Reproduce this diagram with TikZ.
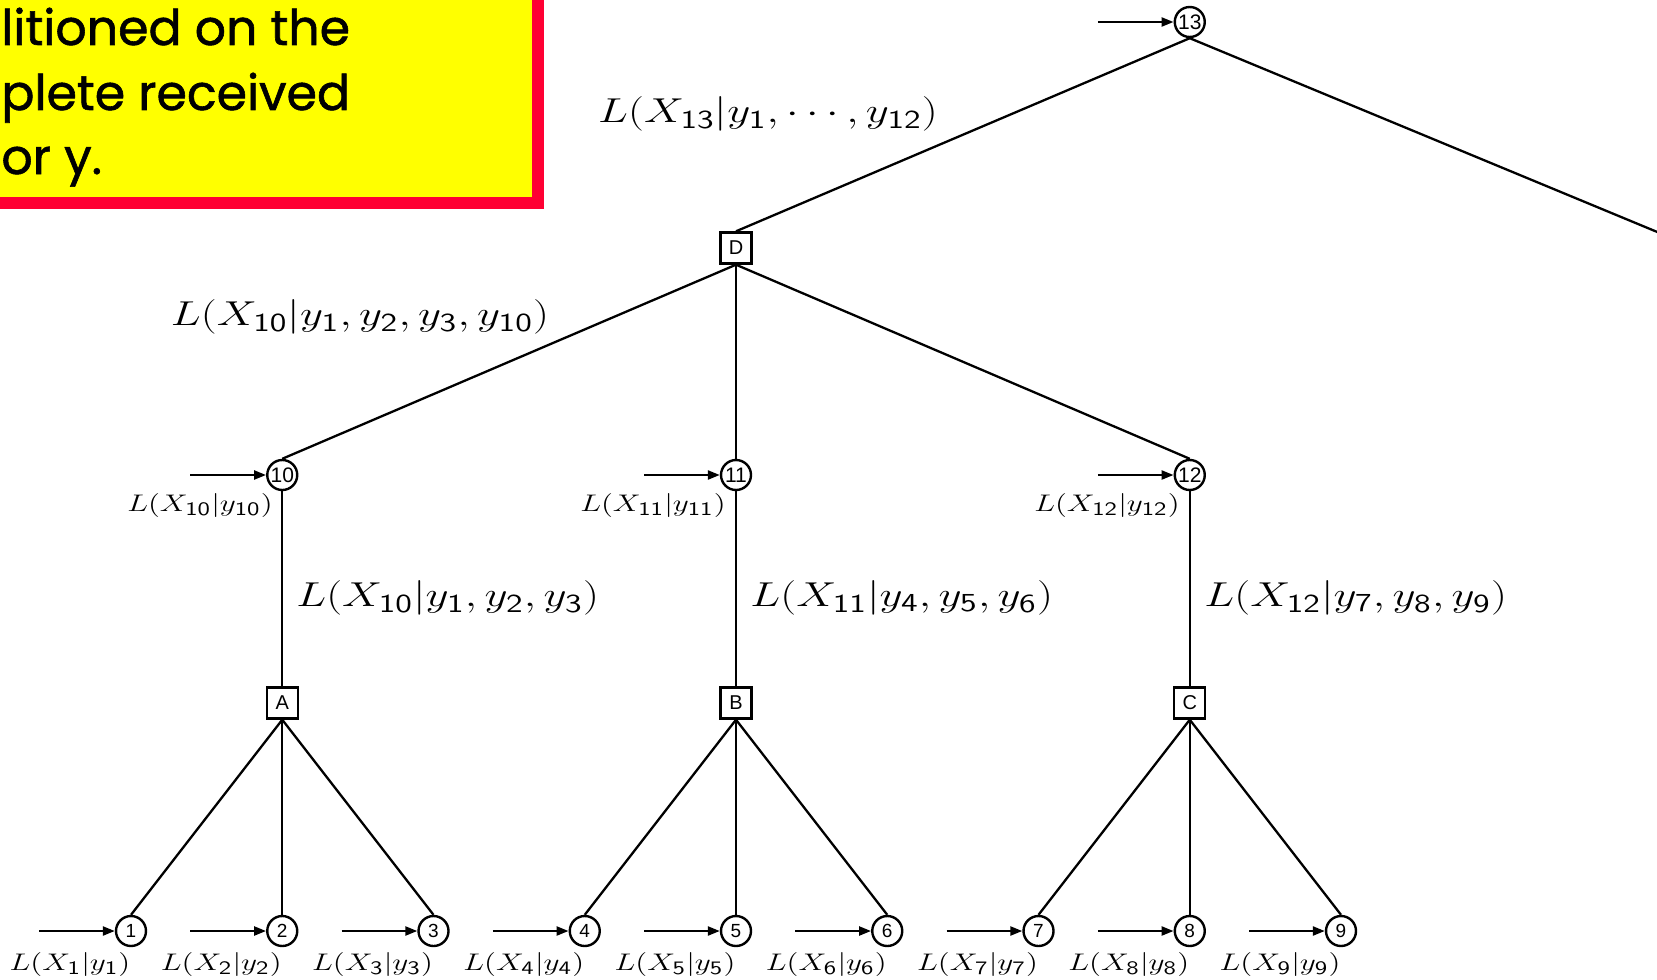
\documentclass[tikz,border=0pt]{standalone}
\usepackage{fontspec}
\usepackage{graphicx}
\usetikzlibrary{arrows.meta}
\newfontfamily\helv{Liberation Sans}
\newfontfamily\boxfont[FakeBold=1.2]{Poppins}
\DeclareMathSizes{16}{16}{13}{10}
\DeclareMathSizes{11.5}{11.5}{9.5}{7}
\definecolor{boxred}{RGB}{255,0,51}
\definecolor{boxyellow}{RGB}{255,255,0}
\newcommand{\sd}[1]{\mathsf{#1}}
\newcommand{\wlab}[1]{\scalebox{1.3}[1]{$#1$}}
\begin{document}
\begin{tikzpicture}[x=0.5pt,y=-0.5pt,
  circ/.style={circle,draw,line width=1.2pt,minimum size=15pt,inner sep=0pt,font=\helv\fontsize{9.5}{10}\selectfont},
  circtwo/.style={circ,font=\helv\fontsize{10.5}{11}\selectfont},
  sqbox/.style={rectangle,draw,line width=1.2pt,minimum size=15.5pt,inner sep=0pt,font=\helv\fontsize{10}{11}\selectfont},
  edge/.style={line width=1.15pt},
  inarr/.style={line width=1.15pt,-{Triangle[length=6pt,width=4.5pt]}},
  small/.style={inner sep=0pt,font=\fontsize{11.5}{13}\selectfont},
  big/.style={inner sep=0pt,font=\fontsize{16}{19}\selectfont},
  boxtext/.style={inner sep=0pt,anchor=base west,font=\boxfont\fontsize{24.5}{30}\selectfont}]
\clip (0,0) rectangle (1657,979);
% yellow note box
\draw[boxred,line width=6pt,fill=boxyellow] (-50,-50) rectangle (538,203);
\node[boxtext] (bt1) at (1,45) {litioned on the};
\node[boxtext] (bt2) at (1,110) {plete received};
\node[boxtext] (bt3) at (1,174) {or y.};
% tree nodes
\node[circtwo] (n13) at (1189.75,22) {13};
\node[sqbox] (D) at (736,248) {D};
\node[circtwo] (n10) at (282.25,475) {10};
\node[circtwo] (n11) at (736,475) {11};
\node[circtwo] (n12) at (1189.75,475) {12};
\node[sqbox] (A) at (282.25,703) {A};
\node[sqbox] (B) at (736,703) {B};
\node[sqbox] (C) at (1189.75,703) {C};
\foreach \i in {1,...,9}{
  \node[circ] (l\i) at ({131+151.25*(\i-1)},931) {\i};
  \draw[inarr] ([xshift=-46pt]l\i.center) -- (l\i.west);
  \node[small] (t\i) at ({131+151.25*(\i-1)-61},964) {\wlab{L(X_{\sd{\i}}|y_{\sd{\i}})}};
}
\coordinate (E) at (1720,258);
% connectors
\draw[edge] (n13.south) -- (D.north);
\draw[edge] (n13.south) -- (E);
\draw[edge] (D.south) -- (n10.north);
\draw[edge] (D.south) -- (n11.north);
\draw[edge] (D.south) -- (n12.north);
\draw[edge] (n10.south) -- (A.north);
\draw[edge] (n11.south) -- (B.north);
\draw[edge] (n12.south) -- (C.north);
\foreach \p/\c in {A/1,A/2,A/3,B/4,B/5,B/6,C/7,C/8,C/9}{
  \draw[edge] (\p.south) -- (l\c.north);
}
% input arrows of upper nodes
\foreach \n in {n13,n10,n11,n12}{
  \draw[inarr] ([xshift=-46pt]\n.center) -- (\n.west);
}
% labels
\node[small] (s10) at (200,505) {\wlab{L(X_{\sd{10}}|y_{\sd{10}})}};
\node[small] (s11) at (653,505) {\wlab{L(X_{\sd{11}}|y_{\sd{11}})}};
\node[small] (s12) at (1107,505) {\wlab{L(X_{\sd{12}}|y_{\sd{12}})}};
\node[big,anchor=west] (e10) at (296,598) {\wlab{L(X_{\sd{10}}|y_{\sd{1}},y_{\sd{2}},y_{\sd{3}})}};
\node[big,anchor=west] (e11) at (750,598) {\wlab{L(X_{\sd{11}}|y_{\sd{4}},y_{\sd{5}},y_{\sd{6}})}};
\node[big,anchor=west] (e12) at (1204,598) {\wlab{L(X_{\sd{12}}|y_{\sd{7}},y_{\sd{8}},y_{\sd{9}})}};
\node[big] (eD) at (360,317) {\wlab{L(X_{\sd{10}}|y_{\sd{1}},y_{\sd{2}},y_{\sd{3}},y_{\sd{10}})}};
\node[big] (e13) at (768,114) {\wlab{L(X_{\sd{13}}|y_{\sd{1}},\cdots,y_{\sd{12}})}};
\end{tikzpicture}
\end{document}
